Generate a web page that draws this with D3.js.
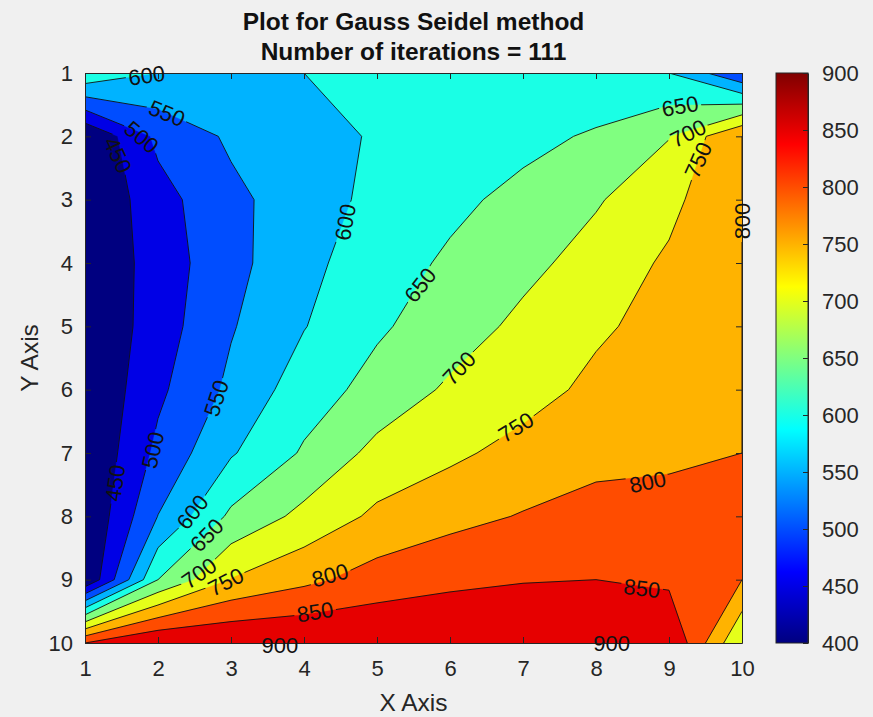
<!DOCTYPE html>
<html>
<head>
<meta charset="utf-8">
<script src="https://cdn.jsdelivr.net/npm/d3@7"></script>
<style>
  html, body { margin: 0; padding: 0; background: #f0f0f0; }
  svg { display: block; font-family: "Liberation Sans", Arial, Helvetica, sans-serif; }
</style>
</head>
<body>
<svg id="chart" width="873" height="717"></svg>
<script>
// ---- data -------------------------------------------------------------
const xTicks = [1, 2, 3, 4, 5, 6, 7, 8, 9, 10];
const yTicks = [1, 2, 3, 4, 5, 6, 7, 8, 9, 10];
const levels = [400, 450, 500, 550, 600, 650, 700, 750, 800, 850];
const colorbarTicks = [400, 450, 500, 550, 600, 650, 700, 750, 800, 850, 900];
const iterations = 111;

// Temperature field after Gauss-Seidel, one row per y (1 = top), columns x = 1..10
const row1  = [640, 600, 600, 600, 600, 600, 600, 600, 600, 505];
const row2  = [400, 512, 558, 585, 604, 618, 632, 658, 698, 800];
const row3  = [400, 481, 538, 576, 613, 635, 668, 695, 736, 800];
const row4  = [400, 474, 533, 590, 620, 660, 686, 720, 758, 800];
const row5  = [400, 476, 546, 598, 643, 675, 712, 742, 768, 800];
const row6  = [400, 490, 561, 626, 667, 708, 730, 762, 782, 800];
const row7  = [400, 512, 595, 656, 715, 740, 767, 789, 795, 800];
const row8  = [400, 551, 660, 714, 760, 785, 803, 813, 810, 800];
const row9  = [400, 650, 752, 788, 821, 838, 847, 850, 840, 800];
const row10 = [850, 900, 900, 900, 900, 900, 900, 900, 900, 700];
const temperature = [row1, row2, row3, row4, row5, row6, row7, row8, row9, row10];

// Inline contour labels: level, position (x, y in axis units), rotation in degrees
const labelLevel = [600, 550, 500, 450, 600, 650, 700, 750, 650, 700, 750, 800,
                    550, 500, 450, 600, 650, 700, 750, 800, 850, 900, 800, 850, 900];
const labelPlacement = [
  [1.845, 1.036, -8], [2.123, 1.632, 22], [1.777, 2.011, 40], [1.452, 2.295, 65],
  [4.562, 3.353, -80], [5.589, 4.347, -52], [6.123, 5.658, -47], [6.904, 6.589, -32],
  [9.151, 1.521, -10], [9.26, 1.947, -26], [9.397, 2.374, -66], [9.996, 3.337, -90],
  [2.795, 6.132, -72], [1.927, 6.953, -77], [1.411, 7.474, -82],
  [2.47, 7.932, -52], [2.667, 8.295, -45], [2.562, 8.895, -35], [2.927, 9.032, -27],
  [4.356, 8.926, -15], [4.151, 9.506, -9], [3.671, 10.03, 0],
  [8.708, 7.453, -12], [8.63, 9.132, 7], [8.215, 10.0, 0]
];

// ---- layout -----------------------------------------------------------
const W = 873, H = 717;
const plot = { left: 85, right: 742, top: 73, bottom: 643 };
const cbar = { left: 776, right: 808, top: 73, bottom: 643 };
const axisColor = "#262626";

const svg = d3.select("#chart");

const xScale = d3.scaleLinear().domain([1, 10]).range([plot.left, plot.right]);
const yScale = d3.scaleLinear().domain([1, 10]).range([plot.top, plot.bottom]);
const cScale = d3.scaleLinear().domain([400, 900]).range([cbar.bottom, cbar.top]);

// jet colormap
const jet = d3.scaleLinear()
  .domain([0, 0.125, 0.375, 0.625, 0.875, 1])
  .range(["#000080", "#0000ff", "#00ffff", "#ffff00", "#ff0000", "#800000"]);
const unit = d3.scaleLinear().domain([400, 900]).range([0, 1]);
const colorOf = v => jet(unit(v));

const labels = labelLevel.map((lv, i) => ({
  level: lv, x: labelPlacement[i][0], y: labelPlacement[i][1], angle: labelPlacement[i][2]
}));

const defs = svg.append("defs");
defs.append("clipPath").attr("id", "plotClip")
  .append("rect")
  .attr("x", plot.left).attr("y", plot.top)
  .attr("width", plot.right - plot.left).attr("height", plot.bottom - plot.top);

// gaps in the contour lines where the labels sit
const mask = defs.append("mask").attr("id", "labelGaps")
  .attr("maskUnits", "userSpaceOnUse")
  .attr("x", 0).attr("y", 0).attr("width", W).attr("height", H);
mask.append("rect").attr("width", W).attr("height", H).attr("fill", "white");
mask.selectAll("rect.gap").data(labels).join("rect")
  .attr("class", "gap")
  .attr("x", -21).attr("y", -9).attr("width", 42).attr("height", 18)
  .attr("fill", "black")
  .attr("transform", d => `translate(${xScale(d.x)},${yScale(d.y)}) rotate(${d.angle})`);

// ---- filled contours ----------------------------------------------------
const nx = temperature[0].length, ny = temperature.length;
const contourSet = d3.contours().size([nx, ny]).thresholds(levels)(temperature.flat());

// grid sample i sits at contour coordinate i + 0.5 -> axis value i + 1
const projection = d3.geoTransform({
  point(x, y) { this.stream.point(xScale(x + 0.5), yScale(y + 0.5)); }
});
const path = d3.geoPath(projection);

svg.append("g").attr("clip-path", "url(#plotClip)")
  .selectAll("path").data(contourSet).join("path")
  .attr("d", path)
  .attr("fill", d => colorOf(d.value))
  .attr("stroke", d => colorOf(d.value))
  .attr("stroke-width", 0.3);

svg.append("g").attr("clip-path", "url(#plotClip)")
  .append("g").attr("mask", "url(#labelGaps)")
  .selectAll("path").data(contourSet.filter(d => d.value > levels[0])).join("path")
  .attr("d", path)
  .attr("fill", "none")
  .attr("stroke", "#111")
  .attr("stroke-width", 0.9)
  .attr("stroke-linejoin", "round");

// ---- axes -------------------------------------------------------------
const tickFont = 22;
function styleAxis(g) {
  g.select(".domain").attr("stroke", axisColor).attr("stroke-width", 1);
  g.selectAll(".tick line").attr("stroke", axisColor);
  g.selectAll(".tick text").attr("fill", axisColor).attr("font-size", tickFont)
    .attr("font-family", "'Liberation Sans', Arial, sans-serif");
}

svg.append("g").attr("transform", `translate(0,${plot.bottom})`)
  .call(d3.axisBottom(xScale).tickValues(xTicks).tickFormat(d3.format("d"))
        .tickSizeInner(-6).tickSizeOuter(0).tickPadding(17))
  .call(styleAxis);
svg.append("g").attr("transform", `translate(0,${plot.top})`)
  .call(d3.axisTop(xScale).tickValues(xTicks).tickFormat("")
        .tickSizeInner(-6).tickSizeOuter(0))
  .call(styleAxis);
svg.append("g").attr("transform", `translate(${plot.left},0)`)
  .call(d3.axisLeft(yScale).tickValues(yTicks).tickFormat(d3.format("d"))
        .tickSizeInner(-6).tickSizeOuter(0).tickPadding(12))
  .call(styleAxis);
svg.append("g").attr("transform", `translate(${plot.right},0)`)
  .call(d3.axisRight(yScale).tickValues(yTicks).tickFormat("")
        .tickSizeInner(-6).tickSizeOuter(0))
  .call(styleAxis);

// ---- contour labels -----------------------------------------------------
svg.append("g").selectAll("text").data(labels).join("text")
  .attr("transform", d => `translate(${xScale(d.x)},${yScale(d.y)}) rotate(${d.angle})`)
  .attr("text-anchor", "middle")
  .attr("dy", "0.36em")
  .attr("font-size", 22)
  .attr("fill", "#111")
  .text(d => d.level);

// ---- titles -----------------------------------------------------------
const cx = (plot.left + plot.right) / 2;
svg.append("text").attr("x", cx).attr("y", 30)
  .attr("text-anchor", "middle").attr("font-size", 24.5).attr("font-weight", "bold")
  .attr("fill", "#111").text("Plot for Gauss Seidel method");
svg.append("text").attr("x", cx).attr("y", 60)
  .attr("text-anchor", "middle").attr("font-size", 24.5).attr("font-weight", "bold")
  .attr("fill", "#111").text(`Number of iterations = ${iterations}`);
svg.append("text").attr("x", cx).attr("y", 711)
  .attr("text-anchor", "middle").attr("font-size", 24.5)
  .attr("fill", axisColor).text("X Axis");
svg.append("text")
  .attr("transform", `translate(38,${(plot.top + plot.bottom) / 2}) rotate(-90)`)
  .attr("text-anchor", "middle").attr("font-size", 24.5)
  .attr("fill", axisColor).text("Y Axis");

// ---- colorbar -----------------------------------------------------------
const grad = defs.append("linearGradient").attr("id", "jetGrad")
  .attr("x1", 0).attr("y1", 1).attr("x2", 0).attr("y2", 0);
grad.selectAll("stop").data(d3.range(0, 1.0001, 1 / 64)).join("stop")
  .attr("offset", d => d)
  .attr("stop-color", d => jet(d));

svg.append("rect")
  .attr("x", cbar.left).attr("y", cbar.top)
  .attr("width", cbar.right - cbar.left).attr("height", cbar.bottom - cbar.top)
  .attr("fill", "url(#jetGrad)");

svg.append("g").attr("transform", `translate(${cbar.right},0)`)
  .call(d3.axisRight(cScale).tickValues(colorbarTicks).tickFormat(d3.format("d"))
        .tickSizeInner(-5).tickSizeOuter(0).tickPadding(14))
  .call(styleAxis);

svg.append("rect")
  .attr("x", cbar.left).attr("y", cbar.top)
  .attr("width", cbar.right - cbar.left).attr("height", cbar.bottom - cbar.top)
  .attr("fill", "none").attr("stroke", axisColor).attr("stroke-width", 1);
</script>
</body>
</html>
